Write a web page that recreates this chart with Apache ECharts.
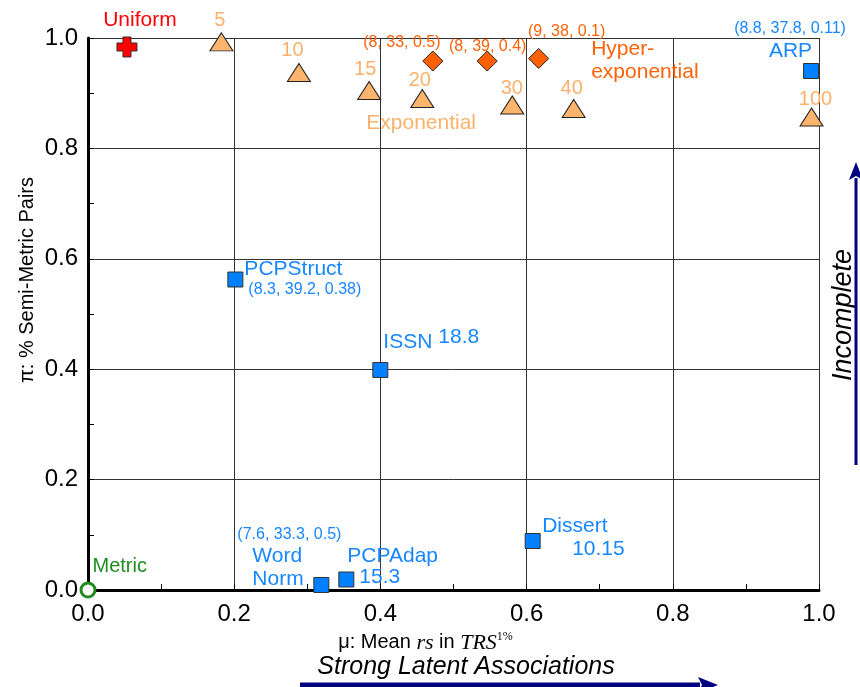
<!DOCTYPE html>
<html>
<head>
<meta charset="utf-8">
<script src="https://cdn.jsdelivr.net/npm/echarts@6/dist/echarts.min.js"></script>
<style>
  html, body { margin: 0; padding: 0; background: #fff; }
  #chart { width: 860px; height: 687px; }
</style>
</head>
<body>
<div id="chart"></div>
<script>
// values
const uniformPt = [0.0533, 0.9837];
const metricPt = [0, 0];

const expNames = ['5', '10', '15', '20', '30', '40', '100'];
const expX = [0.1825, 0.2885, 0.3846, 0.4573, 0.5804, 0.6644, 0.9898];
const expY = [0.993, 0.9375, 0.9049, 0.8904, 0.8786, 0.8723, 0.8569];

const hypNames = ['(8, 33, 0.5)', '(8, 39, 0.4)', '(9, 38, 0.1)'];
const hypX = [0.4717, 0.5461, 0.6165];
const hypY = [0.9583, 0.9583, 0.9629];

const dsNames = ['ARP', 'PCPStruct', 'ISSN', 'Dissert', 'Word Norm', 'PCPAdap'];
const dsX = [0.9891, 0.2016, 0.3999, 0.6083, 0.3192, 0.3534];
const dsY = [0.9402, 0.5625, 0.3986, 0.0888, 0.0091, 0.0190];
const dsNotes = ['(8.8, 37.8, 0.11)', '(8.3, 39.2, 0.38)', '18.8', '10.15', '(7.6, 33.3, 0.5)', '15.3'];

const FONT = '"Liberation Sans", Arial, sans-serif';
const C_EXP = '#FDB46C', C_EXP_T = '#FBB16B';
const C_HYP = '#FF6000', C_HYP_T = '#FF6208';
const C_DS = '#0080FF', C_DS_T = '#1787FF';

// text note pinned to a data point, offset in px
function note(x, y, text, dx, dy, color, size, align) {
  return {
    value: [x, y],
    label: {
      show: true, formatter: text, position: [dx, dy],
      align: align || 'center', verticalAlign: 'middle',
      color: color, fontSize: size, fontFamily: FONT, lineHeight: size + 2
    }
  };
}

const notes = [
  note(uniformPt[0], uniformPt[1], 'Uniform', 13.5, -26, '#FF0000', 21),
  note(metricPt[0], metricPt[1], 'Metric', 5, -23, '#1E8C1E', 20, 'left'),
  note(expX[3], expY[3], 'Exponential', -55.5, 25, C_EXP_T, 21, 'left'),
  note(hypX[2], hypY[2], 'Hyper-\nexponential', 53, 2.5, C_HYP_T, 21, 'left'),
  // datasets
  note(dsX[0], dsY[0], dsNames[0], -20, -19, C_DS_T, 21),
  note(dsX[0], dsY[0], dsNotes[0], -20.5, -42, C_DS_T, 16),
  note(dsX[1], dsY[1], dsNames[1], 9.5, -9.5, C_DS_T, 21, 'left'),
  note(dsX[1], dsY[1], dsNotes[1], 13.5, 10.5, C_DS_T, 16, 'left'),
  note(dsX[2], dsY[2], 'ISSN', 3.5, -27, C_DS_T, 21, 'left'),
  note(dsX[2], dsY[2], dsNotes[2], 58.5, -32, C_DS_T, 21, 'left'),
  note(dsX[3], dsY[3], dsNames[3], 10, -14, C_DS_T, 21, 'left'),
  note(dsX[3], dsY[3], dsNotes[3], 40, 9, C_DS_T, 21, 'left'),
  note(dsX[4], dsY[4], 'Word\nNorm', -68.5, -16.5, C_DS_T, 21, 'left'),
  note(dsX[4], dsY[4], dsNotes[4], -83.5, -50, C_DS_T, 16, 'left'),
  note(dsX[5], dsY[5], dsNames[5], 1.5, -22.5, C_DS_T, 21, 'left'),
  note(dsX[5], dsY[5], dsNotes[5], 13.5, -1.5, C_DS_T, 21, 'left')
];

const expOff = [[-1, -20.5], [-6, -22], [-3.5, -20.5], [-2, -17.5], [0, -16.5], [-1.5, -20], [4.5, -17]];
expNames.forEach((n, i) => notes.push(note(expX[i], expY[i], n, expOff[i][0], expOff[i][1], C_EXP_T, 20)));
const hypOff = [[-30.5, -18], [1, -14], [28.5, -26.5]];
hypNames.forEach((n, i) => notes.push(note(hypX[i], hypY[i], n, hypOff[i][0], hypOff[i][1], C_HYP_T, 16)));

// shared axis look
const lineStyle = { color: '#000', width: 3 };
const gridLine = { show: true, lineStyle: { color: '#333', width: 1 } };
const tickAxis = {
  type: 'value', min: 0, max: 1, interval: 0.1,
  axisLine: { show: false },
  axisTick: { show: true, inside: true, length: 6, lineStyle: { color: '#000' } },
  axisLabel: { show: false }, splitLine: { show: false }
};

const chart = echarts.init(document.getElementById('chart'));
chart.setOption({
  animation: false,
  grid: { left: 88, right: 41, top: 38, bottom: 97 },
  xAxis: [{
    type: 'value', min: 0, max: 1, interval: 0.2,
    name: 'μ: Mean {i|rs} in {i|TRS}{s|1%}',
    nameLocation: 'middle', nameGap: 31,
    nameTextStyle: {
      color: '#000', fontSize: 20, fontFamily: FONT, padding: [0, 56, 0, 0],
      rich: {
        i: { fontFamily: '"Liberation Serif", serif', fontStyle: 'italic', fontSize: 22, color: '#000' },
        s: { fontFamily: '"Liberation Serif", serif', fontSize: 12, color: '#000', padding: [0, 0, 12, 0] }
      }
    },
    axisLine: { show: true, lineStyle: lineStyle },
    axisTick: { show: false },
    splitLine: gridLine,
    axisLabel: { fontSize: 24, color: '#000', fontFamily: FONT, margin: 12, formatter: v => v.toFixed(1) }
  }, Object.assign({ position: 'bottom' }, tickAxis)],
  yAxis: [{
    type: 'value', min: 0, max: 1, interval: 0.2,
    axisLine: { show: true, lineStyle: lineStyle },
    axisTick: { show: false },
    splitLine: gridLine,
    axisLabel: { fontSize: 24, color: '#000', fontFamily: FONT, margin: 10, formatter: v => v.toFixed(1) }
  }, Object.assign({ position: 'left' }, tickAxis)],
  graphic: [
    {
      type: 'text', x: 27, y: 280, rotation: Math.PI / 2,
      style: {
        text: 'π: % Semi-Metric Pairs', x: 0, y: 0,
        font: '20px "Liberation Sans", Arial, sans-serif', fill: '#000',
        align: 'center', verticalAlign: 'middle'
      }
    },
    {
      type: 'text', x: 466, y: 667,
      style: {
        text: 'Strong Latent Associations', x: 0, y: 0,
        font: 'italic 25px "Liberation Sans", Arial, sans-serif', fill: '#000',
        align: 'center', verticalAlign: 'middle'
      }
    },
    { type: 'line', shape: { x1: 300, y1: 685, x2: 700, y2: 685 }, style: { stroke: '#000080', lineWidth: 5 } },
    { type: 'polygon', shape: { points: [[718, 685], [698, 677], [702, 685], [698, 693]] }, style: { fill: '#000080' } },
    {
      type: 'text', x: 843, y: 315, rotation: Math.PI / 2,
      style: {
        text: 'Incomplete', x: 0, y: 0,
        font: 'italic 27px "Liberation Sans", Arial, sans-serif', fill: '#000',
        align: 'center', verticalAlign: 'middle'
      }
    },
    { type: 'line', shape: { x1: 856, y1: 465, x2: 856, y2: 178 }, style: { stroke: '#000080', lineWidth: 3 } },
    { type: 'polygon', shape: { points: [[856, 162], [849, 180], [856, 176], [863, 180]] }, style: { fill: '#000080' } }
  ],
  series: [
    {
      name: 'Exponential', type: 'scatter', symbol: 'triangle', symbolSize: [23, 18],
      itemStyle: { color: C_EXP, borderColor: '#222', borderWidth: 1, opacity: 1 },
      data: expX.map((x, i) => [x, expY[i]]), z: 3
    },
    {
      name: 'Hyper-exponential', type: 'scatter', symbol: 'diamond', symbolSize: 20,
      itemStyle: { color: C_HYP, borderColor: '#222', borderWidth: 1, opacity: 1 },
      data: hypX.map((x, i) => [x, hypY[i]]), z: 3
    },
    {
      name: 'Datasets', type: 'scatter', symbol: 'rect', symbolSize: 15,
      itemStyle: { color: C_DS, borderColor: '#333', borderWidth: 1, opacity: 1 },
      data: dsX.map((x, i) => [x, dsY[i]]), z: 3
    },
    {
      name: 'Uniform', type: 'scatter',
      symbol: 'path://M3,0H7V3H10V7H7V10H3V7H0V3H3Z', symbolSize: 20,
      itemStyle: { color: '#FF0000', borderColor: '#333', borderWidth: 1, opacity: 1 },
      data: [uniformPt], z: 3
    },
    {
      name: 'Metric', type: 'scatter', symbol: 'circle', symbolSize: 14,
      itemStyle: { color: '#fff', borderColor: '#1E8C1E', borderWidth: 3, opacity: 1 },
      data: [metricPt], z: 4, clip: false
    },
    {
      name: 'notes', type: 'scatter', symbolSize: 1, silent: true, clip: false,
      itemStyle: { color: 'rgba(0,0,0,0)', opacity: 1 },
      data: notes, z: 5
    }
  ]
});
</script>
</body>
</html>
